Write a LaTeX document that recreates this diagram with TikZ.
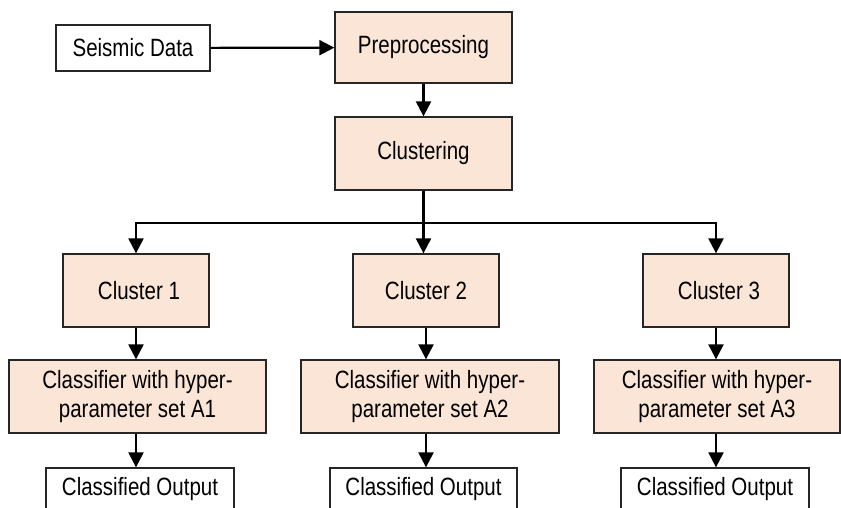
\documentclass[tikz,border=0pt]{standalone}
\usepackage{fontspec}
\setmainfont[FakeStretch=0.82]{Liberation Sans}
\usetikzlibrary{arrows.meta}
\definecolor{peach}{HTML}{FBE5D6}
\begin{document}
\begin{tikzpicture}[x=1pt,y=-1pt,
  basebox/.style={draw=black!85, line width=1.3pt, inner sep=0pt, align=center,
    font=\fontsize{25}{29}\selectfont},
  plainbox/.style={basebox, fill=white},
  fillbox/.style={basebox, fill=peach},
  link/.style={line width=2.2pt, black, line join=miter},
  arr/.style={link, -{Triangle[length=15pt,width=15pt]}}]
\useasboundingbox (0,0) rectangle (841,508);
\clip (0,0) rectangle (841,508);
% top row
\node[plainbox, minimum width=154pt, minimum height=46pt] (seis) at (133,48) {Seismic Data};
\node[fillbox, minimum width=177pt, minimum height=71pt] (pre) at (423.5,47.5) {Preprocessing};
\node[fillbox, minimum width=177pt, minimum height=73pt] (clu) at (423.5,153.5) {Clustering};
% clusters
\node[fillbox, minimum width=146pt, minimum height=73pt] (c1) at (136,290.5) {\hspace*{6pt}Cluster 1};
\node[fillbox, minimum width=146pt, minimum height=73pt] (c2) at (426,290.5) {Cluster 2};
\node[fillbox, minimum width=146pt, minimum height=73pt] (c3) at (716,290.5) {\hspace*{6pt}Cluster 3};
% classifiers
\node[fillbox, minimum width=257pt, minimum height=73pt] (k1) at (137.5,396.5) {Classifier with hyper-\\parameter set A1};
\node[fillbox, minimum width=258pt, minimum height=73pt] (k2) at (430,396.5) {Classifier with hyper-\\parameter set A2};
\node[fillbox, minimum width=246pt, minimum height=73pt] (k3) at (717,396.5) {Classifier with hyper-\\parameter set A3};
% outputs (cut by the lower edge)
\node[plainbox, minimum width=188pt, minimum height=60pt, text height=19pt, text depth=25pt] (o1) at (140,498) {Classified Output};
\node[plainbox, minimum width=187pt, minimum height=60pt, text height=19pt, text depth=25pt] (o2) at (423.5,498) {Classified Output};
\node[plainbox, minimum width=188pt, minimum height=60pt, text height=19pt, text depth=25pt] (o3) at (715,498) {Classified Output};
% connectors
\draw[arr] (seis) -- (pre);
\draw[arr] (pre) -- (clu);
\draw[link] (clu.south) -- ++(0,32) coordinate (bus);
\draw[arr] (bus) -| (c1.north);
\draw[arr] (bus) -- (bus |- c2.north);
\draw[arr] (bus) -| (c3.north);
\draw[arr] (c1.south) -- (c1.south |- k1.north);
\draw[arr] (c2.south) -- (c2.south |- k2.north);
\draw[arr] (c3.south) -- (c3.south |- k3.north);
\draw[arr] (c1.south |- k1.south) -- (c1.south |- o1.north);
\draw[arr] (c2.south |- k2.south) -- (c2.south |- o2.north);
\draw[arr] (c3.south |- k3.south) -- (c3.south |- o3.north);
\end{tikzpicture}
\end{document}
